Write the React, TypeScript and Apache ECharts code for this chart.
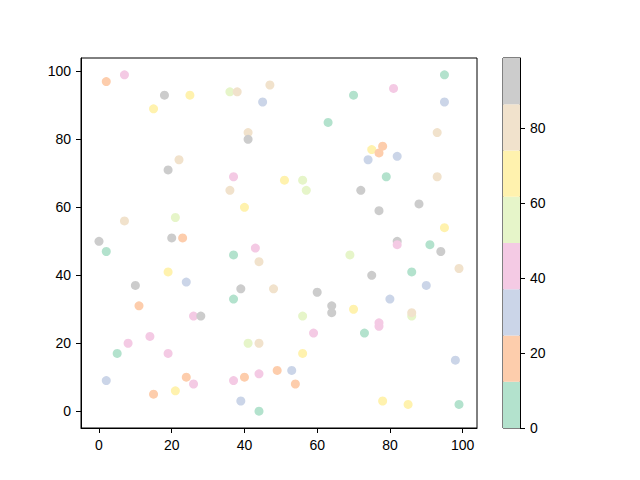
import React, { useEffect, useRef } from 'react';
import * as echarts from 'echarts';

// point coordinates
const xValues = [2, 7, 18, 25, 15, 22, 19, 36, 38, 47, 45, 63, 70, 41, 41, 37, 51, 56, 95, 81, 95, 93, 75, 78, 77, 74, 82, 79, 93, 7, 21, 0, 2, 20, 23, 19, 24, 10, 11, 57, 36, 40, 43, 37, 44, 69, 39, 48, 60, 37, 64, 64, 72, 88, 77, 95, 82, 82, 91, 94, 99, 75, 86, 90, 80, 70, 26, 28, 14, 8, 5, 19, 2, 24, 26, 21, 15, 56, 59, 41, 44, 56, 37, 40, 44, 49, 53, 54, 39, 44, 86, 86, 77, 77, 73, 98, 78, 85, 99];
const yValues = [97, 99, 93, 93, 89, 74, 71, 94, 94, 96, 91, 85, 93, 82, 80, 69, 68, 68, 99, 95, 91, 82, 77, 78, 76, 74, 75, 69, 69, 56, 57, 50, 47, 51, 51, 41, 38, 37, 31, 65, 65, 60, 48, 46, 44, 46, 36, 36, 35, 33, 31, 29, 65, 61, 59, 54, 50, 49, 49, 47, 42, 40, 41, 37, 33, 30, 28, 28, 22, 20, 17, 17, 9, 10, 8, 6, 5, 28, 23, 20, 20, 17, 9, 10, 11, 12, 12, 8, 3, 0, 28, 29, 26, 25, 23, 15, 3, 2, 2];
// colour values (estimated within each colour band)
const cValues = [18, 43, 92, 68, 68, 80, 92, 55, 80, 80, 31, 6, 6, 80, 92, 43, 68, 55, 6, 43, 31, 80, 68, 18, 18, 31, 31, 6, 80, 80, 55, 92, 6, 92, 18, 68, 31, 92, 18, 55, 80, 68, 43, 6, 80, 55, 92, 80, 92, 6, 92, 92, 92, 92, 92, 68, 92, 43, 6, 92, 80, 92, 6, 31, 31, 68, 43, 92, 43, 43, 6, 43, 31, 18, 43, 68, 18, 55, 43, 55, 80, 68, 43, 18, 43, 18, 31, 18, 31, 6, 55, 80, 43, 43, 6, 31, 68, 68, 6];

const pastel2 = ['#b3e2cd', '#fdcdac', '#cbd5e8', '#f4cae4', '#e6f5c9', '#fff2ae', '#f1e2cc', '#cccccc'];
const cMin = 0;
const cMax = 98.6;
const axisTicks = [0, 20, 40, 60, 80, 100];
const colorbarTicks = [0, 20, 40, 60, 80];
const axisMin = -4.95;
const axisMax = 103.95;

const colorOf = (c: number) => {
  const i = Math.floor(((c - cMin) / (cMax - cMin)) * pastel2.length);
  return pastel2[Math.max(0, Math.min(pastel2.length - 1, i))];
};

const font = 'Liberation Sans';

export default function App() {
  const ref = useRef<HTMLDivElement>(null);
  useEffect(() => {
    if (!ref.current) return;
    const chart = echarts.init(ref.current, null, { renderer: 'svg' });
    const points = xValues.map((x, i) => [x, yValues[i], cValues[i]]);
    const bandSize = (cMax - cMin) / pastel2.length;
    const axisCommon = {
      axisLine: { show: true, onZero: false, lineStyle: { color: '#000', width: 1 } },
      axisTick: { show: true, length: 5, lineStyle: { color: '#000' } },
      splitLine: { show: false },
    };
    chart.setOption({
      animation: false,
      backgroundColor: '#fff',
      textStyle: { fontFamily: font },
      grid: [
        { left: 81, top: 58, width: 396, height: 370, show: true, borderColor: '#000', borderWidth: 1, backgroundColor: 'transparent' },
        { left: 503, top: 58, width: 17, height: 370, show: true, borderColor: '#000', borderWidth: 1, backgroundColor: 'transparent' },
      ],
      xAxis: [
        {
          type: 'value', gridIndex: 0, min: axisMin, max: axisMax,
          ...axisCommon,
          axisTick: { ...axisCommon.axisTick, customValues: axisTicks },
          axisLabel: { customValues: axisTicks, color: '#000', fontSize: 14, fontFamily: font, margin: 10 },
        },
        {
          type: 'category', gridIndex: 1, data: ['c'], show: false,
        },
      ],
      yAxis: [
        {
          type: 'value', gridIndex: 0, min: axisMin, max: axisMax,
          ...axisCommon,
          axisTick: { ...axisCommon.axisTick, customValues: axisTicks },
          axisLabel: { customValues: axisTicks, color: '#000', fontSize: 14, fontFamily: font, margin: 10 },
        },
        {
          type: 'value', gridIndex: 1, min: cMin, max: cMax, position: 'right',
          ...axisCommon,
          axisTick: { ...axisCommon.axisTick, customValues: colorbarTicks },
          axisLabel: { customValues: colorbarTicks, color: '#000', fontSize: 14, fontFamily: font, margin: 10 },
        },
      ],
      series: [
        {
          type: 'scatter',
          xAxisIndex: 0, yAxisIndex: 0,
          data: points,
          symbolSize: 9,
          itemStyle: { color: (p: any) => colorOf(p.value[2]), opacity: 1 },
        },
        ...pastel2.map((col, i) => ({
          type: 'bar',
          xAxisIndex: 1, yAxisIndex: 1,
          stack: 'cb',
          barWidth: '100%',
          data: [bandSize],
          itemStyle: { color: col },
          silent: true,
        })),
      ],
    });
    return () => chart.dispose();
  }, []);
  return <div ref={ref} style={{ width: 640, height: 480, position: 'absolute', left: 0, top: 0 }} />;
}
